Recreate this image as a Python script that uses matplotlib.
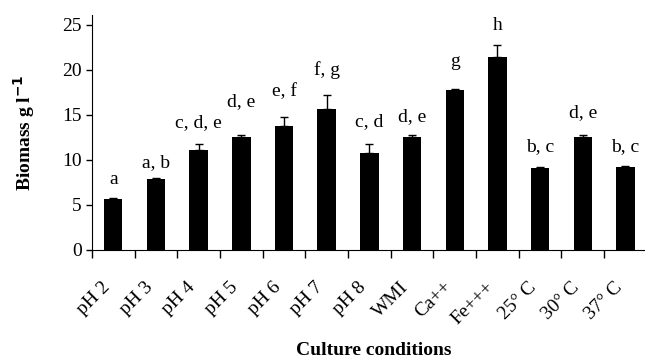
import numpy as np
import matplotlib.pyplot as plt

conditions = ["pH 2", "pH 3", "pH 4", "pH 5", "pH 6", "pH 7", "pH 8", "WMI",
              "Ca++", "Fe+++", "25° C", "30° C", "37° C"]
biomass = [5.65, 7.9, 11.1, 12.5, 13.8, 15.65, 10.8, 12.5, 17.8, 21.45, 9.1, 12.5, 9.25]
errors = [0.1, 0.1, 0.6, 0.25, 1.0, 1.5, 0.9, 0.25, 0.1, 1.3, 0.1, 0.25, 0.1]
groups = ["a", "a, b", "c, d, e", "d, e", "e, f", "f, g", "c, d", "d, e",
          "g", "h", "b, c", "d, e", "b, c"]
group_y = [7.75, 9.7, 14.1, 16.5, 17.6, 20.0, 14.3, 14.8, 20.95, 24.9, 11.5, 15.3, 11.5]

plt.rcParams["font.family"] = ["Liberation Serif", "DejaVu Serif"]

fig = plt.figure(figsize=(6.45, 3.6), dpi=100)
ax = fig.add_axes([0.1426, 0.3064, 0.8574, 0.652])

x = np.arange(len(conditions))
ax.bar(x, biomass, width=0.43, color="black",
       yerr=[np.zeros(len(errors)), errors], capsize=3,
       error_kw=dict(ecolor="black", elinewidth=1, capthick=1))

for xi, lab, yy in zip(x, groups, group_y):
    ax.text(xi, yy, lab, ha="center", va="center", fontsize=14)

ax.set_xlim(-0.5, 12.46)
ax.set_ylim(0, 26.1)
ax.set_yticks([0, 5, 10, 15, 20, 25])
ax.set_xticks(np.arange(13) - 0.5)
ax.set_xticklabels([])
# category names sit a bit left of the bar centres, as in the original
ax.set_xticks(x - 0.14, minor=True)
ax.set_xticklabels(conditions, minor=True, rotation=45, ha="right",
                   va="center", rotation_mode="anchor", fontsize=14)
ax.tick_params(axis="x", which="minor", length=0, pad=25)
ax.tick_params(axis="x", which="major", direction="out", length=6, width=1)
ax.tick_params(axis="y", direction="out", length=4, width=1, labelsize=14)

for s in ["top", "right"]:
    ax.spines[s].set_visible(False)

ax.set_ylabel("Biomass g l$^{\\mathbf{-1}}$", fontsize=14, fontweight="bold")
ax.yaxis.set_label_coords(-0.10, 0.5)
fig.text(374 / 645, 1 - 342 / 360, "Culture conditions", ha="center", va="top",
         fontsize=14, fontweight="bold")

fig.savefig("out.png", dpi=100)
